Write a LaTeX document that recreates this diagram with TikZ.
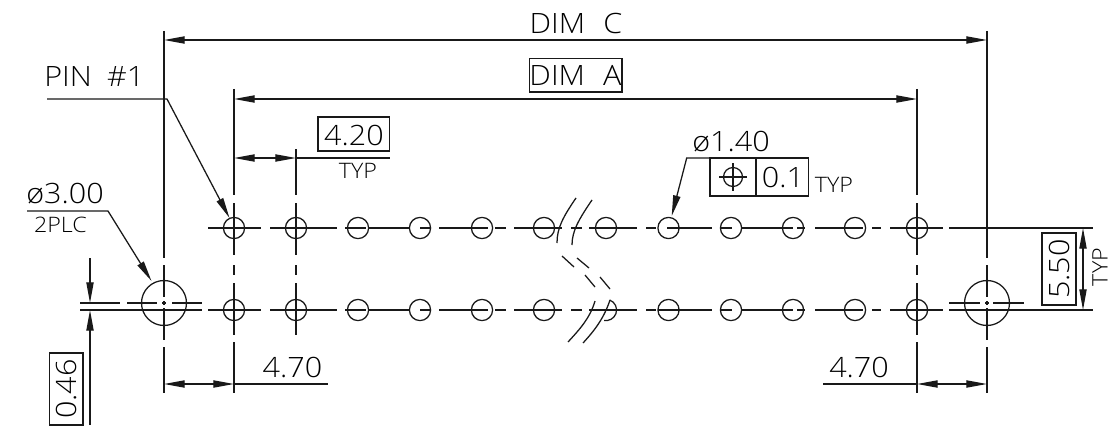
\documentclass[tikz,border=0pt]{standalone}
\usepackage{fontspec}
\setmainfont{Open Sans}[UprightFont=* Light,FakeStretch=1.09]
\usetikzlibrary{arrows.meta}
\newcommand{\rowsegs}[2]{\foreach \a/\b in {#2} \draw[ln] (\a,#1) -- (\b,#1);}
\newcommand{\vsegs}[2]{\foreach \a/\b in {#2} \draw[ln] (#1,\a) -- (#1,\b);}
\tikzset{
  ln/.style={line width=0.95pt,black!90},
  dimln/.style={ln,{Triangle[length=15.5pt,width=5.4pt]}-{Triangle[length=15.5pt,width=5.4pt]}},
  tip/.style={ln,-{Triangle[length=15.5pt,width=5.4pt]}},
  big/.style={font=\fontsize{21}{21}\selectfont,inner sep=0pt,black},
  small/.style={font=\fontsize{16}{16}\selectfont,inner sep=0pt,black},
  hole/.style={ln},
  framebox/.style={draw,line width=0.95pt,black!90}
}
\begin{document}
\begin{tikzpicture}[x=0.75pt,y=-0.75pt]
\useasboundingbox (0,0) rectangle (1113,428);
% row centre lines
\rowsegs{228}{208/261,270/337,345/366,368/410,420/430,439/488,495/506,514/562,571/582,589/637,646/656,667/712,720/732,742/782,783/793,797/805,815/863,872/881,890/943,949/1093}
\rowsegs{310}{80/202,208/261,270/337,345/366,368/410,420/430,439/488,495/506,514/562,571/582,589/637,646/656,658/712,720/732,742/782,783/793,797/805,815/863,872/881,890/943,949/1093}
\rowsegs{303}{80/120,127/157,162/166,172/202,949/980,985/989,993/1024}
% vertical lines
\vsegs{164}{31/258,265/297,301/305,308/340,347/393}
\vsegs{987}{31/258,265/297,301/305,308/340,347/393}
\vsegs{234}{89/195,203/255,265/275,283/335,342/393}
\vsegs{917}{89/195,203/255,265/275,283/335,342/393}
\vsegs{296}{149/195,203/255,265/275,283/335}
% holes
\foreach \x in {234,296,358,420,482,544,606,668.5,731,793,855,917} \draw[hole] (\x,228) circle (10.6);
\foreach \x in {234,296,358,420,482,544,668.5,731,793,855,917} \draw[hole] (\x,310) circle (10.6);
\draw[hole] (609.6,300) arc[start angle=-70,end angle=100,radius=10.6];
\draw[hole] (164,303) circle (22.5);
\draw[hole] (987,303) circle (22.5);
% break marks
\draw[ln] (576,198) .. controls (563,217) and (557,228) .. (557,243);
\draw[ln] (592,200) .. controls (579,219) and (572,231) .. (572,245);
\draw[ln] (562,256) -- (574,267);
\draw[ln] (577,258) -- (589,268);
\draw[ln] (585,275) -- (595,287);
\draw[ln] (600,277) -- (610,289);
\draw[ln] (595,301) .. controls (590,318) and (580,329) .. (568,342);
\draw[ln] (610,300) .. controls (604,318) and (595,330) .. (583,343);
% dimensions
\draw[dimln] (164,40) -- (987,40);
\draw[dimln] (234,99) -- (917,99);
\draw[dimln] (234,158) -- (296,158);
\draw[ln] (296,158) -- (390,158);
\draw[dimln] (164,384) -- (234,384);
\draw[ln] (234,384) -- (328,384);
\draw[dimln] (917,384) -- (987,384);
\draw[ln] (823,384) -- (917,384);
\draw[dimln] (1083,228) -- (1083,310);
\draw[tip] (90,258) -- (90,303);
\draw[tip] (90,425) -- (90,310);
% leaders
\draw[tip] (47,99) -- (167,99) -- (229.5,218);
\draw[tip] (27,211) -- (108,211) -- (151.5,281);
\draw[tip] (756,158) -- (686.7,158) -- (671.7,216);
% frames
\draw[framebox] (529.5,58.5) rectangle (622,92);
\draw[framebox] (318,117) rectangle (389.5,151);
\draw[framebox] (710,158) rectangle (808.5,196);
\draw[ln] (756,158) -- (756,196);
\draw[framebox] (1042,233) rectangle (1076,305);
\draw[framebox] (49.5,353) rectangle (83,425);
% position symbol
\draw[ln] (733,177) circle (9.5);
\draw[ln] (719,177) -- (747,177);
\draw[ln] (733,163) -- (733,191);
% texts
\node[big] (tc) at (576,23) {DIM\hspace{0.65em}C};
\node[big] (ta) at (575.5,75) {DIM\hspace{0.65em}A};
\node[big,anchor=base west] (tpin) at (44,86) {PIN\hspace{0.55em}\#1};
\node[big] (t420) at (354,135) {4.20};
\node[small] (ttyp1) at (358,170.5) {TYP};
\node[big,anchor=base west] (tphi3) at (26,203) {ø3.00};
\node[small] (t2plc) at (60.5,225) {2PLC};
\node[big,anchor=base west] (tphi1) at (692,151) {ø1.40};
\node[big] (t01) at (783,177) {0.1};
\node[small] (ttyp2) at (834,185) {TYP};
\node[big] (t470a) at (292.5,367) {4.70};
\node[big] (t470b) at (859,367) {4.70};
\node[big,rotate=90] (t550) at (1059,269) {5.50};
\node[small,rotate=90] (ttyp3) at (1100,267) {TYP};
\node[big,rotate=90] (t046) at (66,389) {0.46};
\end{tikzpicture}
\end{document}
